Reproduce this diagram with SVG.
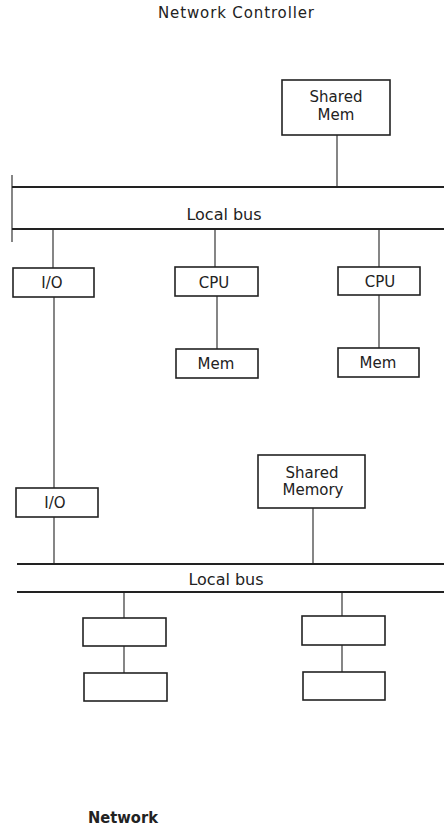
<svg xmlns="http://www.w3.org/2000/svg" width="444" height="829" viewBox="0 0 444 829">
<style>
.box{fill:#fff;stroke:#222;stroke-width:1.6}
.bus{stroke:#222;stroke-width:1.8;fill:none}
.ln{stroke:#222;stroke-width:1.1;fill:none}
text{font-family:"DejaVu Sans","Liberation Sans",sans-serif;font-size:15px;fill:#222;text-anchor:middle}
.busl{font-size:16px}
</style>
<rect width="444" height="829" fill="#fff"/>
<text id="title" x="236" y="18" font-size="12" fill="#666" textLength="156" lengthAdjust="spacing">Network Controller</text>
<g id="connectors">
<line class="ln" x1="337" y1="135" x2="337" y2="187"/>
<line class="bus" x1="12" y1="187" x2="444" y2="187"/>
<line class="bus" x1="12" y1="229" x2="444" y2="229"/>
<line class="ln" x1="12" y1="175" x2="12" y2="242"/>
<line class="ln" x1="53" y1="229" x2="53" y2="268"/>
<line class="ln" x1="215" y1="229" x2="215" y2="267"/>
<line class="ln" x1="379" y1="229" x2="379" y2="267"/>
<line class="ln" x1="217" y1="296" x2="217" y2="349"/>
<line class="ln" x1="379" y1="295" x2="379" y2="348"/>
<line class="ln" x1="54" y1="297" x2="54" y2="488"/>
<line class="ln" x1="54" y1="517" x2="54" y2="564"/>
<line class="ln" x1="313" y1="508" x2="313" y2="564"/>
<line class="bus" x1="17" y1="564" x2="444" y2="564"/>
<line class="bus" x1="17" y1="592" x2="444" y2="592"/>
<line class="ln" x1="124" y1="592" x2="124" y2="618"/>
<line class="ln" x1="342" y1="592" x2="342" y2="616"/>
<line class="ln" x1="124" y1="646" x2="124" y2="673"/>
<line class="ln" x1="342" y1="645" x2="342" y2="672"/>
</g>
<text id="bus1" class="busl" x="224" y="220">Local bus</text>
<text id="bus2" class="busl" x="226" y="585">Local bus</text>
<g id="shared-mem">
<rect class="box" x="282" y="80" width="108" height="55"/>
<text x="336" y="102">Shared</text>
<text x="336" y="120">Mem</text>
</g>
<g id="io1">
<rect class="box" x="13" y="268" width="81" height="29"/>
<text x="52" y="288">I/O</text>
</g>
<g id="cpu1">
<rect class="box" x="175" y="267" width="83" height="29"/>
<text x="214" y="288">CPU</text>
</g>
<g id="cpu2">
<rect class="box" x="338" y="267" width="82" height="28"/>
<text x="380" y="287">CPU</text>
</g>
<g id="mem1">
<rect class="box" x="176" y="349" width="82" height="29"/>
<text x="216" y="369">Mem</text>
</g>
<g id="mem2">
<rect class="box" x="338" y="348" width="81" height="29"/>
<text x="378" y="368">Mem</text>
</g>
<g id="io2">
<rect class="box" x="16" y="488" width="82" height="29"/>
<text x="55" y="508">I/O</text>
</g>
<g id="shared-memory">
<rect class="box" x="258" y="455" width="107" height="53"/>
<text x="312" y="478">Shared</text>
<text x="313" y="495">Memory</text>
</g>
<g id="box-a1"><rect class="box" x="83" y="618" width="83" height="28"/></g>
<g id="box-b1"><rect class="box" x="302" y="616" width="83" height="29"/></g>
<g id="box-a2"><rect class="box" x="84" y="673" width="83" height="28"/></g>
<g id="box-b2"><rect class="box" x="303" y="672" width="82" height="28"/></g>
<text id="network" x="123" y="823" font-size="14" font-weight="bold" textLength="70" lengthAdjust="spacingAndGlyphs">Network</text>
</svg>
